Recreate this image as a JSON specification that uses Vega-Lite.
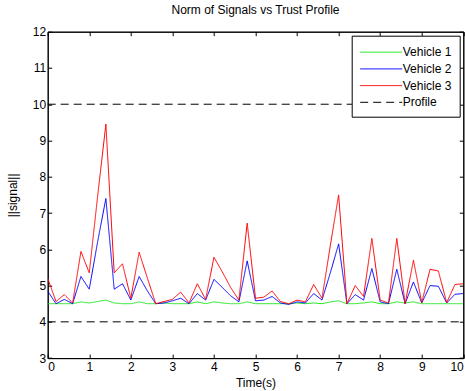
{
  "$schema": "https://vega.github.io/schema/vega-lite/v6.json",
  "width": 415.6,
  "height": 326.4,
  "autosize": {"type": "none"},
  "padding": {"left": 47.7, "top": 31.7, "right": 1.7, "bottom": 32.9},
  "title": {"text": "Norm of Signals vs Trust Profile", "fontSize": 12, "fontWeight": "normal", "font": "Liberation Sans", "offset": 9, "color": "black"},
  "config": {
    "font": "Liberation Sans",
    "view": {"stroke": "black", "strokeWidth": 1},
    "axis": {"grid": false, "domainColor": "black", "tickColor": "black", "labelColor": "black", "titleColor": "black", "labelFontSize": 12, "titleFontSize": 12, "titleFontWeight": "normal", "tickSize": -4, "labelFont": "Liberation Sans", "titleFont": "Liberation Sans"},
    "legend": {"orient": "top-right", "offset": 4, "fillColor": "white", "strokeColor": "black", "padding": 8, "labelFontSize": 12, "labelColor": "black", "symbolType": "M-1,0H4.25", "symbolSize": 256, "symbolStrokeWidth": 1, "rowPadding": 1.7, "labelOffset": 26}
  },
  "datasets": {
    "veh": [
      {"t": 0.0, "Vehicle 1": 4.5, "Vehicle 2": 4.85, "Vehicle 3": 5.2},
      {"t": 0.2, "Vehicle 1": 4.5, "Vehicle 2": 4.5, "Vehicle 3": 4.56},
      {"t": 0.4, "Vehicle 1": 4.5, "Vehicle 2": 4.62, "Vehicle 3": 4.75},
      {"t": 0.6, "Vehicle 1": 4.5, "Vehicle 2": 4.5, "Vehicle 3": 4.52},
      {"t": 0.8, "Vehicle 1": 4.55, "Vehicle 2": 5.25, "Vehicle 3": 5.94},
      {"t": 1.0, "Vehicle 1": 4.52, "Vehicle 2": 4.9, "Vehicle 3": 5.35},
      {"t": 1.2, "Vehicle 1": 4.56, "Vehicle 2": 6.2, "Vehicle 3": 7.45},
      {"t": 1.4, "Vehicle 1": 4.6, "Vehicle 2": 7.4, "Vehicle 3": 9.45},
      {"t": 1.6, "Vehicle 1": 4.52, "Vehicle 2": 4.9, "Vehicle 3": 5.35},
      {"t": 1.8, "Vehicle 1": 4.5, "Vehicle 2": 5.05, "Vehicle 3": 5.6},
      {"t": 2.0, "Vehicle 1": 4.5, "Vehicle 2": 4.6, "Vehicle 3": 4.65},
      {"t": 2.2, "Vehicle 1": 4.55, "Vehicle 2": 5.25, "Vehicle 3": 5.92},
      {"t": 2.4, "Vehicle 1": 4.5, "Vehicle 2": 4.85, "Vehicle 3": 5.2},
      {"t": 2.6, "Vehicle 1": 4.5, "Vehicle 2": 4.5, "Vehicle 3": 4.5},
      {"t": 2.8, "Vehicle 1": 4.52, "Vehicle 2": 4.52, "Vehicle 3": 4.56},
      {"t": 3.0, "Vehicle 1": 4.5, "Vehicle 2": 4.58, "Vehicle 3": 4.62},
      {"t": 3.2, "Vehicle 1": 4.5, "Vehicle 2": 4.65, "Vehicle 3": 4.82},
      {"t": 3.4, "Vehicle 1": 4.5, "Vehicle 2": 4.5, "Vehicle 3": 4.52},
      {"t": 3.6, "Vehicle 1": 4.55, "Vehicle 2": 4.78, "Vehicle 3": 5.05},
      {"t": 3.8, "Vehicle 1": 4.5, "Vehicle 2": 4.6, "Vehicle 3": 4.62},
      {"t": 4.0, "Vehicle 1": 4.55, "Vehicle 2": 5.17, "Vehicle 3": 5.78},
      {"t": 4.2, "Vehicle 1": 4.52, "Vehicle 2": 4.95, "Vehicle 3": 5.38},
      {"t": 4.4, "Vehicle 1": 4.5, "Vehicle 2": 4.72, "Vehicle 3": 4.95},
      {"t": 4.6, "Vehicle 1": 4.5, "Vehicle 2": 4.55, "Vehicle 3": 4.6},
      {"t": 4.8, "Vehicle 1": 4.55, "Vehicle 2": 5.68, "Vehicle 3": 6.72},
      {"t": 5.0, "Vehicle 1": 4.5, "Vehicle 2": 4.58, "Vehicle 3": 4.65},
      {"t": 5.2, "Vehicle 1": 4.5, "Vehicle 2": 4.6, "Vehicle 3": 4.68},
      {"t": 5.4, "Vehicle 1": 4.5, "Vehicle 2": 4.7, "Vehicle 3": 4.85},
      {"t": 5.6, "Vehicle 1": 4.5, "Vehicle 2": 4.52, "Vehicle 3": 4.56},
      {"t": 5.8, "Vehicle 1": 4.5, "Vehicle 2": 4.48, "Vehicle 3": 4.5},
      {"t": 6.0, "Vehicle 1": 4.52, "Vehicle 2": 4.55, "Vehicle 3": 4.6},
      {"t": 6.2, "Vehicle 1": 4.5, "Vehicle 2": 4.52, "Vehicle 3": 4.55},
      {"t": 6.4, "Vehicle 1": 4.52, "Vehicle 2": 4.78, "Vehicle 3": 5.03},
      {"t": 6.6, "Vehicle 1": 4.5, "Vehicle 2": 4.6, "Vehicle 3": 4.65},
      {"t": 6.8, "Vehicle 1": 4.55, "Vehicle 2": 5.35, "Vehicle 3": 6.1},
      {"t": 7.0, "Vehicle 1": 4.58, "Vehicle 2": 6.15, "Vehicle 3": 7.5},
      {"t": 7.2, "Vehicle 1": 4.5, "Vehicle 2": 4.5, "Vehicle 3": 4.5},
      {"t": 7.4, "Vehicle 1": 4.5, "Vehicle 2": 4.75, "Vehicle 3": 5.0},
      {"t": 7.6, "Vehicle 1": 4.52, "Vehicle 2": 4.6, "Vehicle 3": 4.7},
      {"t": 7.8, "Vehicle 1": 4.55, "Vehicle 2": 5.47, "Vehicle 3": 6.3},
      {"t": 8.0, "Vehicle 1": 4.5, "Vehicle 2": 4.55, "Vehicle 3": 4.6},
      {"t": 8.2, "Vehicle 1": 4.5, "Vehicle 2": 4.5, "Vehicle 3": 4.52},
      {"t": 8.4, "Vehicle 1": 4.55, "Vehicle 2": 5.45, "Vehicle 3": 6.3},
      {"t": 8.6, "Vehicle 1": 4.52, "Vehicle 2": 4.5, "Vehicle 3": 4.5},
      {"t": 8.8, "Vehicle 1": 4.55, "Vehicle 2": 5.1, "Vehicle 3": 5.7},
      {"t": 9.0, "Vehicle 1": 4.5, "Vehicle 2": 4.52, "Vehicle 3": 4.53},
      {"t": 9.2, "Vehicle 1": 4.5, "Vehicle 2": 5.0, "Vehicle 3": 5.45},
      {"t": 9.4, "Vehicle 1": 4.5, "Vehicle 2": 4.98, "Vehicle 3": 5.4},
      {"t": 9.6, "Vehicle 1": 4.5, "Vehicle 2": 4.52, "Vehicle 3": 4.53},
      {"t": 9.8, "Vehicle 1": 4.5, "Vehicle 2": 4.76, "Vehicle 3": 5.03},
      {"t": 10.0, "Vehicle 1": 4.5, "Vehicle 2": 4.78, "Vehicle 3": 5.05}
    ],
    "prof": [
      {"t": 0, "v": 10, "series": "Profile", "seg": "upper"},
      {"t": 10, "v": 10, "series": "Profile", "seg": "upper"},
      {"t": 0, "v": 4, "series": "Profile", "seg": "lower"},
      {"t": 10, "v": 4, "series": "Profile", "seg": "lower"}
    ]
  },
  "layer": [
    {
      "data": {"name": "veh"},
      "transform": [{"fold": ["Vehicle 1", "Vehicle 2", "Vehicle 3"], "as": ["series", "v"]}],
      "mark": {"type": "line", "strokeWidth": 1, "clip": true},
      "encoding": {
        "x": {"field": "t", "type": "quantitative", "scale": {"domain": [0, 10], "nice": false}, "axis": {"title": "Time(s)", "values": [0,1,2,3,4,5,6,7,8,9,10], "labelPadding": 7, "titlePadding": 5}},
        "y": {"field": "v", "type": "quantitative", "scale": {"domain": [3, 12], "nice": false}, "axis": {"title": "||signal||", "values": [3,4,5,6,7,8,9,10,11,12], "labelPadding": 6, "titlePadding": 13}},
        "color": {"field": "series", "type": "nominal", "scale": {"domain": ["Vehicle 1", "Vehicle 2", "Vehicle 3", "Profile"], "range": ["#22e622", "#0000ff", "#ff0000", "#000000"]}, "legend": {"title": null}},
        "strokeDash": {"field": "series", "type": "nominal", "scale": {"domain": ["Vehicle 1", "Vehicle 2", "Vehicle 3", "Profile"], "range": [[1, 0], [1, 0], [1, 0], [8, 5]]}, "legend": {"title": null}}
      }
    },
    {
      "data": {"name": "prof"},
      "mark": {"type": "line", "strokeWidth": 1},
      "encoding": {
        "x": {"field": "t", "type": "quantitative", "axis": null},
        "y": {"field": "v", "type": "quantitative", "axis": null},
        "detail": {"field": "seg"},
        "color": {"field": "series", "type": "nominal"},
        "strokeDash": {"field": "series", "type": "nominal"}
      }
    },
    {
      "data": {"name": "prof"},
      "mark": {"type": "point", "opacity": 0},
      "encoding": {
        "x": {"field": "t", "type": "quantitative", "axis": {"orient": "top", "labels": false, "title": null, "values": [0,1,2,3,4,5,6,7,8,9,10]}},
        "y": {"field": "v", "type": "quantitative", "axis": {"orient": "right", "labels": false, "title": null, "values": [3,4,5,6,7,8,9,10,11,12]}}
      }
    }
  ],
  "resolve": {"axis": {"x": "independent", "y": "independent"}}
}
